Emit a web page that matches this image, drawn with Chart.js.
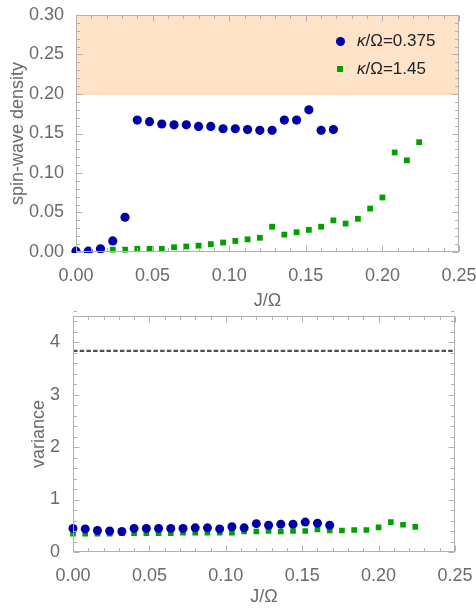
<!DOCTYPE html>
<html lang="en">
<head>
<meta charset="UTF-8">
<title>Spin-wave density and variance</title>
<script src="https://cdn.jsdelivr.net/npm/chart.js"></script>
<style>
  body { margin: 0; background: #fff; font-family: "Liberation Sans", Arial, sans-serif; }
  .wrap { position: relative; width: 476px; height: 608px; overflow: hidden; }
  #topChart { position: absolute; left: 0; top: 0; }
  #bottomChart { position: absolute; left: 0; top: 300px; }
  .legend { position: absolute; left: 334px; top: 27px; font-size: 17px; color: #222; }
  .legend .row { display: flex; align-items: center; height: 28px; }
  .legend .sym { width: 12px; display: flex; justify-content: center; margin-right: 11px; }
  .dot { width: 9px; height: 9px; border-radius: 50%; background: #0000a8; }
  .sq { width: 6px; height: 6px; background: #00a000; }
</style>
</head>
<body>
<div class="wrap">
  <canvas id="topChart" width="476" height="312"></canvas>
  <canvas id="bottomChart" width="476" height="308"></canvas>
  <div class="legend">
    <div class="row"><span class="sym"><span class="dot"></span></span><span><i>κ</i>/Ω=0.375</span></div>
    <div class="row"><span class="sym"><span class="sq"></span></span><span><i>κ</i>/Ω=1.45</span></div>
  </div>
</div>

<script>
// J/Ω values for each series
const jBlue = [0.000, 0.008, 0.016, 0.024, 0.032, 0.040, 0.048, 0.056, 0.064, 0.072, 0.080,
               0.088, 0.096, 0.104, 0.112, 0.120, 0.128, 0.136, 0.144, 0.152, 0.160, 0.168];
const jGreen = [0.000, 0.008, 0.016, 0.024, 0.032, 0.040, 0.048, 0.056, 0.064, 0.072, 0.080,
                0.088, 0.096, 0.104, 0.112, 0.120, 0.128, 0.136, 0.144, 0.152, 0.160, 0.168,
                0.176, 0.184, 0.192, 0.200, 0.208, 0.216, 0.224];

// spin-wave density (top panel)
const densityBlue = [0.001, 0.001, 0.004, 0.014, 0.044, 0.167, 0.165, 0.162, 0.161, 0.161, 0.159,
                     0.159, 0.156, 0.156, 0.155, 0.154, 0.154, 0.167, 0.167, 0.180, 0.154, 0.155];
const densityGreen = [0.001, 0.001, 0.002, 0.003, 0.003, 0.004, 0.004, 0.004, 0.006, 0.007, 0.008,
                      0.010, 0.012, 0.014, 0.016, 0.018, 0.032, 0.022, 0.025, 0.028, 0.032, 0.040,
                      0.036, 0.042, 0.055, 0.069, 0.126, 0.116, 0.139];

// variance (bottom panel)
const varianceBlue = [0.45, 0.44, 0.41, 0.40, 0.39, 0.45, 0.45, 0.45, 0.45, 0.45, 0.46,
                      0.46, 0.44, 0.48, 0.46, 0.54, 0.51, 0.53, 0.53, 0.57, 0.55, 0.51];
const varianceGreen = [0.35, 0.35, 0.35, 0.35, 0.36, 0.36, 0.36, 0.36, 0.36, 0.37, 0.37,
                       0.37, 0.37, 0.37, 0.39, 0.39, 0.40, 0.39, 0.40, 0.40, 0.43, 0.41,
                       0.41, 0.42, 0.42, 0.47, 0.57, 0.52, 0.48];

const jRange = [0, 0.25];
const densityBand = [0.20, 0.30];
const varianceRef = 3.83;

const BLUE = '#0000a8';
const GREEN = '#00a000';

function pts(xs, ys) { return xs.map((x, i) => ({ x: x, y: ys[i] })); }

// mathematica style frame with inward ticks on all four sides
const frameTicks = {
  id: 'frameTicks',
  afterDatasetsDraw(chart, args, opts) {
    const { ctx, chartArea: a, scales: { x, y } } = chart;
    const L = Math.round(a.left) + 0.5, R = Math.round(a.right) - 0.5;
    const T = Math.round(a.top) + 0.5, B = Math.round(a.bottom) - 0.5;
    ctx.save();
    ctx.strokeStyle = '#b0b0b0';
    ctx.lineWidth = 1;
    ctx.strokeRect(L, T, R - L, B - T);
    ctx.beginPath();
    let n = Math.round((x.max - x.min) / opts.xMinor);
    let every = Math.round(opts.xMajor / opts.xMinor);
    for (let i = 0; i <= n; i++) {
      const px = Math.round(x.getPixelForValue(x.min + i * opts.xMinor)) + 0.5;
      const len = i % every === 0 ? 6 : 3.5;
      ctx.moveTo(px, B); ctx.lineTo(px, B - len);
      ctx.moveTo(px, T); ctx.lineTo(px, T + len);
    }
    n = Math.round((y.max - y.min) / opts.yMinor);
    every = Math.round(opts.yMajor / opts.yMinor);
    for (let i = 0; i <= n; i++) {
      const py = Math.round(y.getPixelForValue(y.min + i * opts.yMinor)) + 0.5;
      const len = i % every === 0 ? 6 : 3.5;
      ctx.moveTo(L, py); ctx.lineTo(L + len, py);
      ctx.moveTo(R, py); ctx.lineTo(R - len, py);
    }
    ctx.stroke();
    ctx.restore();
  }
};

const tickFont = { family: '"Liberation Sans", Arial, sans-serif', size: 18 };
const pointClip = { left: 5, right: 5, top: 5, bottom: 1 };

function xAxis(height) {
  return {
    type: 'linear', min: jRange[0], max: jRange[1],
    grid: { display: false }, border: { display: false },
    ticks: { stepSize: 0.05, includeBounds: false, callback: v => v.toFixed(2), padding: 5,
             color: '#6a6a6a', font: tickFont, maxRotation: 0, autoSkip: false },
    title: { display: true, text: 'J/Ω', color: '#6a6a6a', font: tickFont, padding: { top: 0, bottom: 0 } },
    afterFit(s) { s.height = height; s.paddingLeft = 0; s.paddingRight = 0; }
  };
}

new Chart(document.getElementById('topChart'), {
  type: 'scatter',
  data: {
    datasets: [
      { data: pts(jBlue, densityBlue), pointStyle: 'circle', pointRadius: 4.6, pointBorderWidth: 0,
        backgroundColor: BLUE, order: 0, clip: pointClip },
      { data: pts(jGreen, densityGreen), pointStyle: 'rect', pointRadius: 4.1, pointBorderWidth: 0,
        backgroundColor: GREEN, order: 1, clip: pointClip },
      { type: 'line', data: pts(jRange, [densityBand[1], densityBand[1]]), fill: { value: densityBand[0] },
        backgroundColor: '#fee3c9', borderWidth: 0, pointRadius: 0, order: 10 },
      { type: 'line', data: pts(jRange, [densityBand[0], densityBand[0]]), fill: false,
        borderColor: '#fcd2ad', borderWidth: 1.5, pointRadius: 0, order: 9 }
    ]
  },
  options: {
    responsive: false, animation: false,
    layout: { padding: { top: 15, right: 17, left: 0, bottom: 0 } },
    plugins: {
      legend: { display: false }, tooltip: { enabled: false },
      frameTicks: { xMinor: 0.01, xMajor: 0.05, yMinor: 0.01, yMajor: 0.05 }
    },
    scales: {
      x: xAxis(60),
      y: {
        type: 'linear', min: 0, max: 0.3,
        grid: { display: false }, border: { display: false },
        ticks: { stepSize: 0.05, callback: v => v.toFixed(2), padding: 4, color: '#6a6a6a', font: tickFont },
        title: { display: true, text: 'spin-wave density', color: '#6a6a6a', font: tickFont, padding: { top: 7 } },
        afterFit(s) { s.width = 76; }
      }
    }
  },
  plugins: [frameTicks]
});

new Chart(document.getElementById('bottomChart'), {
  type: 'scatter',
  data: {
    datasets: [
      { data: pts(jBlue, varianceBlue), pointStyle: 'circle', pointRadius: 4.5, pointBorderWidth: 0,
        backgroundColor: BLUE, order: 0, clip: pointClip },
      { data: pts(jGreen, varianceGreen), pointStyle: 'rect', pointRadius: 4.0, pointBorderWidth: 0,
        backgroundColor: GREEN, order: 1, clip: pointClip },
      { type: 'line', data: pts(jRange, [varianceRef, varianceRef]), borderColor: '#505050',
        borderWidth: 2.3, borderDash: [4.5, 2.2], pointRadius: 0, fill: false, order: 5 }
    ]
  },
  options: {
    responsive: false, animation: false,
    layout: { padding: { top: 15, right: 21, left: 0, bottom: 0 } },
    plugins: {
      legend: { display: false }, tooltip: { enabled: false },
      frameTicks: { xMinor: 0.01, xMajor: 0.05, yMinor: 0.2, yMajor: 1 }
    },
    scales: {
      x: xAxis(56),
      y: {
        type: 'linear', min: 0, max: 4.5,
        grid: { display: false }, border: { display: false },
        ticks: { stepSize: 1, includeBounds: false, padding: 5, color: '#6a6a6a', font: tickFont },
        title: { display: true, text: 'variance', color: '#6a6a6a', font: tickFont, padding: { top: 28 } },
        afterFit(s) { s.width = 73; }
      }
    }
  },
  plugins: [frameTicks]
});
</script>
</body>
</html>
